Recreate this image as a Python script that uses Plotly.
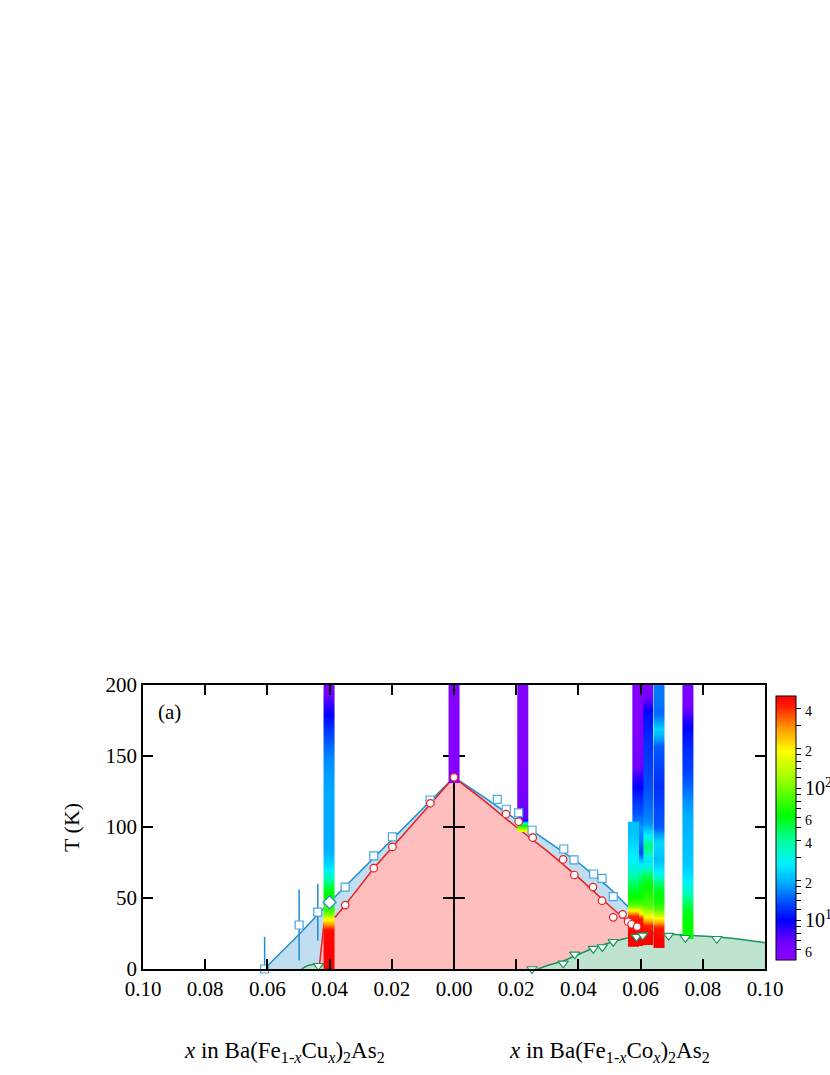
import numpy as np
import plotly.graph_objects as go

# ---------------- data ----------------
# Cu side is plotted at negative x, Co side at positive x
# structural transition Ts (blue) - line through the data
ts_line_x = [-0.061, -0.05, -0.04, -0.03, -0.02, -0.01, 0.0, 0.01, 0.02, 0.03, 0.04, 0.05, 0.055, 0.06, 0.065]
ts_line_T = [0, 24, 47, 69, 91, 113, 135, 120.5, 105, 90, 75, 57, 46, 35, 24]
# magnetic transition TN (red)
tn_line_x = [-0.0434, -0.0418, -0.038, -0.035, -0.0258, -0.0198, -0.0076, 0.0, 0.01, 0.02, 0.03, 0.04, 0.05, 0.055, 0.06]
tn_line_T = [0, 32, 37, 45, 71, 86, 116.7, 135, 118, 100, 83, 64.5, 44.5, 35, 24]
# superconducting domes Tc (green)
sc_co_x = [0.027, 0.03, 0.035, 0.04, 0.045, 0.05, 0.055, 0.06, 0.065, 0.07, 0.075, 0.08, 0.085, 0.09, 0.095, 0.10]
sc_co_T = [0, 2.5, 5.5, 10.5, 15, 18.5, 21.5, 23.5, 24.5, 24.5, 24, 23.5, 22.5, 21.5, 20, 18.5]
sc_cu_x = [-0.049, -0.047, -0.045, -0.043, -0.041, -0.040]
sc_cu_T = [0, 2.5, 3.3, 3.5, 3.2, 3.0]

# markers
sq_cu_x = [-0.0609, -0.0498, -0.0438, -0.035, -0.0258, -0.0198, -0.0077]
sq_cu_T = [0, 31, 40, 57.7, 79.6, 93, 119]
sq_cu_err = [22.7, 25, 20, 0, 0, 0, 0]
sq_co_x = [0.0139, 0.0168, 0.0208, 0.0251, 0.0353, 0.0386, 0.0449, 0.0476, 0.0512]
sq_co_T = [119.5, 112.5, 110, 97.7, 84.5, 76.8, 66.9, 63.8, 50.9]
ci_x = [-0.035, -0.0258, -0.0198, -0.0076, 0.0, 0.0167, 0.0208, 0.0253, 0.0351, 0.0387,
        0.0447, 0.0476, 0.0512, 0.0542, 0.0560, 0.0571, 0.0589]
ci_T = [45, 71, 86, 116.7, 135, 109, 103.7, 92.5, 77.2, 66.2,
        57.7, 48.1, 36.4, 38.5, 33.3, 31.5, 29.8]
tri_x = [-0.0436, 0.0251, 0.0351, 0.0388, 0.0448, 0.0477, 0.0512, 0.0587, 0.0607, 0.069, 0.0744, 0.0845]
tri_T = [2.3, 0, 4, 10.3, 14.3, 15.5, 19.2, 22.7, 23.7, 23.5, 22, 21.3]
dia_x = [-0.040]
dia_T = [47]

# colour bars (relaxation-rate strips): centre x, T segment edges and value per segment
bar_w = 0.0035
bar_centres = [-0.0402, 0.0, 0.0221, 0.0752, 0.0659, 0.0622, 0.0591, 0.0577]
bar_edges = [
    [0, 26, 29, 32, 35, 38, 42, 50, 57, 62, 67, 72, 78, 85, 110, 140, 155, 168, 180, 192, 203],
    [131, 170, 203],
    [96.7, 98.5, 100.5, 102.5, 104.5, 106.5, 150, 203],
    [21, 35, 45, 52, 58, 65, 75, 100, 118, 130, 150, 165, 175, 183, 203],
    [14.6, 29, 32, 35, 38, 42, 50, 58, 64, 72, 84, 93, 100, 157, 164, 174, 185, 203],
    [17, 31, 34, 37, 40, 44, 55, 66, 72, 80, 93, 110, 140, 180, 189, 203],
    [16, 35, 37, 39, 42, 46, 55, 66, 72, 78, 86, 95, 104, 115, 124, 133, 142, 203],
    [15.7, 37.5, 39.5, 41.5, 44, 48, 56, 64, 72, 82, 92, 103.7],
]
bar_values = [
    [500, 450, 330, 230, 150, 90, 70, 62, 48, 36, 27, 23, 20, 19, 19, 17, 14, 11, 8.5, 6],
    [5.5, 5.5],
    [170, 100, 55, 20, 9, 6, 5.5],
    [65, 58, 45, 33, 27, 23, 21, 19, 16, 13, 11.5, 10, 8, 6],
    [500, 380, 250, 170, 110, 70, 60, 45, 27, 21, 24, 17, 12, 17, 23, 15, 16],
    [500, 330, 220, 160, 110, 75, 60, 40, 24, 45, 18, 14, 12, 9, 6],
    [500, 380, 260, 170, 110, 65, 55, 35, 24, 13, 16, 18, 14, 12, 10, 8, 5.5],
    [500, 330, 220, 140, 85, 62, 48, 34, 27, 24, 21],
]

x_ticks = [-0.10, -0.08, -0.06, -0.04, -0.02, 0.0, 0.02, 0.04, 0.06, 0.08, 0.10]
x_ticktext = ["0.10", "0.08", "0.06", "0.04", "0.02", "0.00", "0.02", "0.04", "0.06", "0.08", "0.10"]
y_ticks = [0, 50, 100, 150, 200]
cb_min, cb_max = 5, 500
cb_major = [6, 10, 20, 40, 60, 100, 200, 400]
cb_major_text = ["6", "10<sup>1</sup>", "2", "4", "6", "10<sup>2</sup>", "2", "4"]
cb_minor = [7, 8, 9, 12, 14, 16, 18, 30, 50, 70, 80, 90, 120, 140, 160, 180, 300]

# ---------------- styling ----------------
FONT = "Liberation Serif, Times New Roman, serif"
BLUE = "rgb(30,140,210)"
BLUE_MK = "rgb(70,165,225)"
RED = "rgb(235,30,30)"
GREEN = "rgb(25,150,90)"
F_BLUE = "rgb(192,222,240)"
F_RED = "rgb(255,190,190)"
F_GREEN = "rgb(190,228,208)"

colorscale = [
    [0.00, "rgb(140,0,255)"],
    [0.07, "rgb(110,0,255)"],
    [0.15, "rgb(0,0,255)"],
    [0.22, "rgb(0,80,255)"],
    [0.29, "rgb(0,170,255)"],
    [0.36, "rgb(0,240,255)"],
    [0.45, "rgb(0,255,160)"],
    [0.55, "rgb(0,255,0)"],
    [0.68, "rgb(150,255,0)"],
    [0.79, "rgb(255,255,0)"],
    [0.88, "rgb(255,150,0)"],
    [0.96, "rgb(255,30,0)"],
    [1.00, "rgb(255,0,0)"],
]

fig = go.Figure()

# ---- subplot 1: filled phase regions and lines ----
fig.add_trace(go.Scatter(x=ts_line_x, y=ts_line_T, mode="lines", fill="tozeroy",
                         fillcolor=F_BLUE, line=dict(color=BLUE, width=1.5),
                         xaxis="x", yaxis="y", hoverinfo="skip"))
fig.add_trace(go.Scatter(x=tn_line_x, y=tn_line_T, mode="lines", fill="tozeroy",
                         fillcolor=F_RED, line=dict(color=RED, width=1.5),
                         xaxis="x", yaxis="y", hoverinfo="skip"))
fig.add_trace(go.Scatter(x=sc_co_x, y=sc_co_T, mode="lines", fill="tozeroy",
                         fillcolor=F_GREEN, line=dict(color=GREEN, width=1.5),
                         xaxis="x", yaxis="y", hoverinfo="skip"))
fig.add_trace(go.Scatter(x=sc_cu_x, y=sc_cu_T, mode="lines", fill="tozeroy",
                         fillcolor=F_GREEN, line=dict(color=GREEN, width=1.5),
                         xaxis="x", yaxis="y", hoverinfo="skip"))
# empty trace so the second centre axis is registered
fig.add_trace(go.Scatter(x=[], y=[], xaxis="x", yaxis="y4", showlegend=False))

# ---- subplot 2: colour strips ----
for xc, ed, vals in zip(bar_centres, bar_edges, bar_values):
    z = [[np.log10(v), np.log10(v)] for v in vals]
    fig.add_trace(go.Heatmap(x=[xc - bar_w / 2, xc, xc + bar_w / 2], y=ed, z=z,
                             coloraxis="coloraxis", zsmooth="best",
                             xaxis="x2", yaxis="y2", hoverinfo="skip"))

# ---- subplot 3: markers ----
fig.add_trace(go.Scatter(x=sq_cu_x, y=sq_cu_T, mode="markers", cliponaxis=False,
                         marker=dict(symbol="square", size=8, color="white",
                                     line=dict(color=BLUE_MK, width=1.2)),
                         error_y=dict(type="data", array=sq_cu_err, visible=True,
                                      width=0, thickness=1.5, color=BLUE),
                         xaxis="x3", yaxis="y3", hoverinfo="skip"))
fig.add_trace(go.Scatter(x=sq_co_x, y=sq_co_T, mode="markers", cliponaxis=False,
                         marker=dict(symbol="square", size=8, color="white",
                                     line=dict(color=BLUE_MK, width=1.2)),
                         xaxis="x3", yaxis="y3", hoverinfo="skip"))
fig.add_trace(go.Scatter(x=ci_x, y=ci_T, mode="markers", cliponaxis=False,
                         marker=dict(symbol="circle", size=7.5, color="white",
                                     line=dict(color=RED, width=1.2)),
                         xaxis="x3", yaxis="y3", hoverinfo="skip"))
fig.add_trace(go.Scatter(x=tri_x, y=tri_T, mode="markers", cliponaxis=False,
                         marker=dict(symbol="triangle-down", size=9, color="white",
                                     line=dict(color=GREEN, width=1.2)),
                         xaxis="x3", yaxis="y3", hoverinfo="skip"))
fig.add_trace(go.Scatter(x=dia_x, y=dia_T, mode="markers", cliponaxis=False,
                         marker=dict(symbol="diamond", size=10, color="white",
                                     line=dict(color=BLUE, width=1.2)),
                         xaxis="x3", yaxis="y3", hoverinfo="skip"))

lcb = np.log10
cb_tickvals = [lcb(v) for v in cb_major] + [lcb(v) for v in cb_minor]
cb_ticktext = [t if t.startswith("10") else '<span style="font-size:14px">%s</span>' % t
               for t in cb_major_text] + [""] * len(cb_minor)

fig.update_layout(
    width=830, height=1075,
    margin=dict(l=143, r=65, t=685, b=106, autoexpand=False),
    paper_bgcolor="white", plot_bgcolor="rgba(0,0,0,0)",
    showlegend=False,
    font=dict(family=FONT, size=21, color="black"),
    coloraxis=dict(
        colorscale=colorscale, cmin=lcb(cb_min), cmax=lcb(cb_max),
        colorbar=dict(
            x=1.0177, xanchor="left", y=0.4965, yanchor="middle",
            thickness=20, thicknessmode="pixels", len=264, lenmode="pixels",
            xpad=0, ypad=0, outlinewidth=1, outlinecolor="black",
            tickmode="array", tickvals=cb_tickvals, ticktext=cb_ticktext,
            ticks="outside", ticklen=5, tickcolor="black", tickwidth=1,
            tickfont=dict(family=FONT, size=20, color="black"),
        ),
    ),
    # subplot 1 (fills) - its y axis is the centre line at x = 0
    xaxis=dict(visible=False, range=[-0.1, 0.1], domain=[0, 1]),
    yaxis=dict(range=[0, 200], anchor="free", position=0.5, showline=True,
               linecolor="black", linewidth=1.6, ticks="inside", ticklen=10,
               tickwidth=1.5, tickcolor="black", tickvals=[50, 100, 150],
               showticklabels=False, showgrid=False, zeroline=False),
    yaxis4=dict(range=[0, 200], anchor="free", position=0.5, overlaying="y",
                showline=True, linecolor="black", linewidth=1.6, ticks="outside",
                ticklen=10, tickwidth=1.5, tickcolor="black", tickvals=[50, 100, 150],
                showticklabels=False, showgrid=False, zeroline=False),
    # subplot 2 (colour strips)
    xaxis2=dict(visible=False, range=[-0.1, 0.1], anchor="y2", domain=[0, 1]),
    yaxis2=dict(visible=False, range=[0, 200], anchor="x2", domain=[0, 1]),
    # subplot 3 (markers + frame)
    xaxis3=dict(range=[-0.1, 0.1], anchor="y3", domain=[0, 1], showline=True,
                linecolor="black", linewidth=1.5, mirror="ticks", ticks="inside",
                ticklen=10, tickwidth=1.5, tickcolor="black", tickvals=x_ticks,
                ticktext=x_ticktext, showgrid=False, zeroline=False,
                tickfont=dict(family=FONT, size=21, color="black")),
    yaxis3=dict(range=[0, 200], anchor="x3", domain=[0, 1], showline=True,
                linecolor="black", linewidth=1.5, mirror="ticks", ticks="inside",
                ticklen=10, tickwidth=1.5, tickcolor="black", tickvals=y_ticks,
                showgrid=False, zeroline=False,
                tickfont=dict(family=FONT, size=21, color="black")),
    annotations=[
        dict(text="(a)", x=0.0434, y=0.905, xref="paper", yref="paper",
             xanchor="center", yanchor="middle",
             showarrow=False, font=dict(family=FONT, size=21)),
        dict(text="T (K)", x=-0.1158, y=0.5, xref="paper", yref="paper",
             xanchor="center", yanchor="middle",
             textangle=-90, showarrow=False, font=dict(family=FONT, size=22)),
        dict(text="<i>x</i> in Ba(Fe<sub>1-<i>x</i></sub>Cu<sub><i>x</i></sub>)<sub>2</sub>As<sub>2</sub>",
             x=0.2267, y=-0.292, xref="paper", yref="paper", showarrow=False,
             xanchor="center", yanchor="middle",
             font=dict(family=FONT, size=23)),
        dict(text="<i>x</i> in Ba(Fe<sub>1-<i>x</i></sub>Co<sub><i>x</i></sub>)<sub>2</sub>As<sub>2</sub>",
             x=0.7508, y=-0.292, xref="paper", yref="paper", showarrow=False,
             xanchor="center", yanchor="middle",
             font=dict(family=FONT, size=23)),
    ],
)

fig.write_html("out.html", config={"displayModeBar": False},
               post_script="document.body.style.margin='0px';")
